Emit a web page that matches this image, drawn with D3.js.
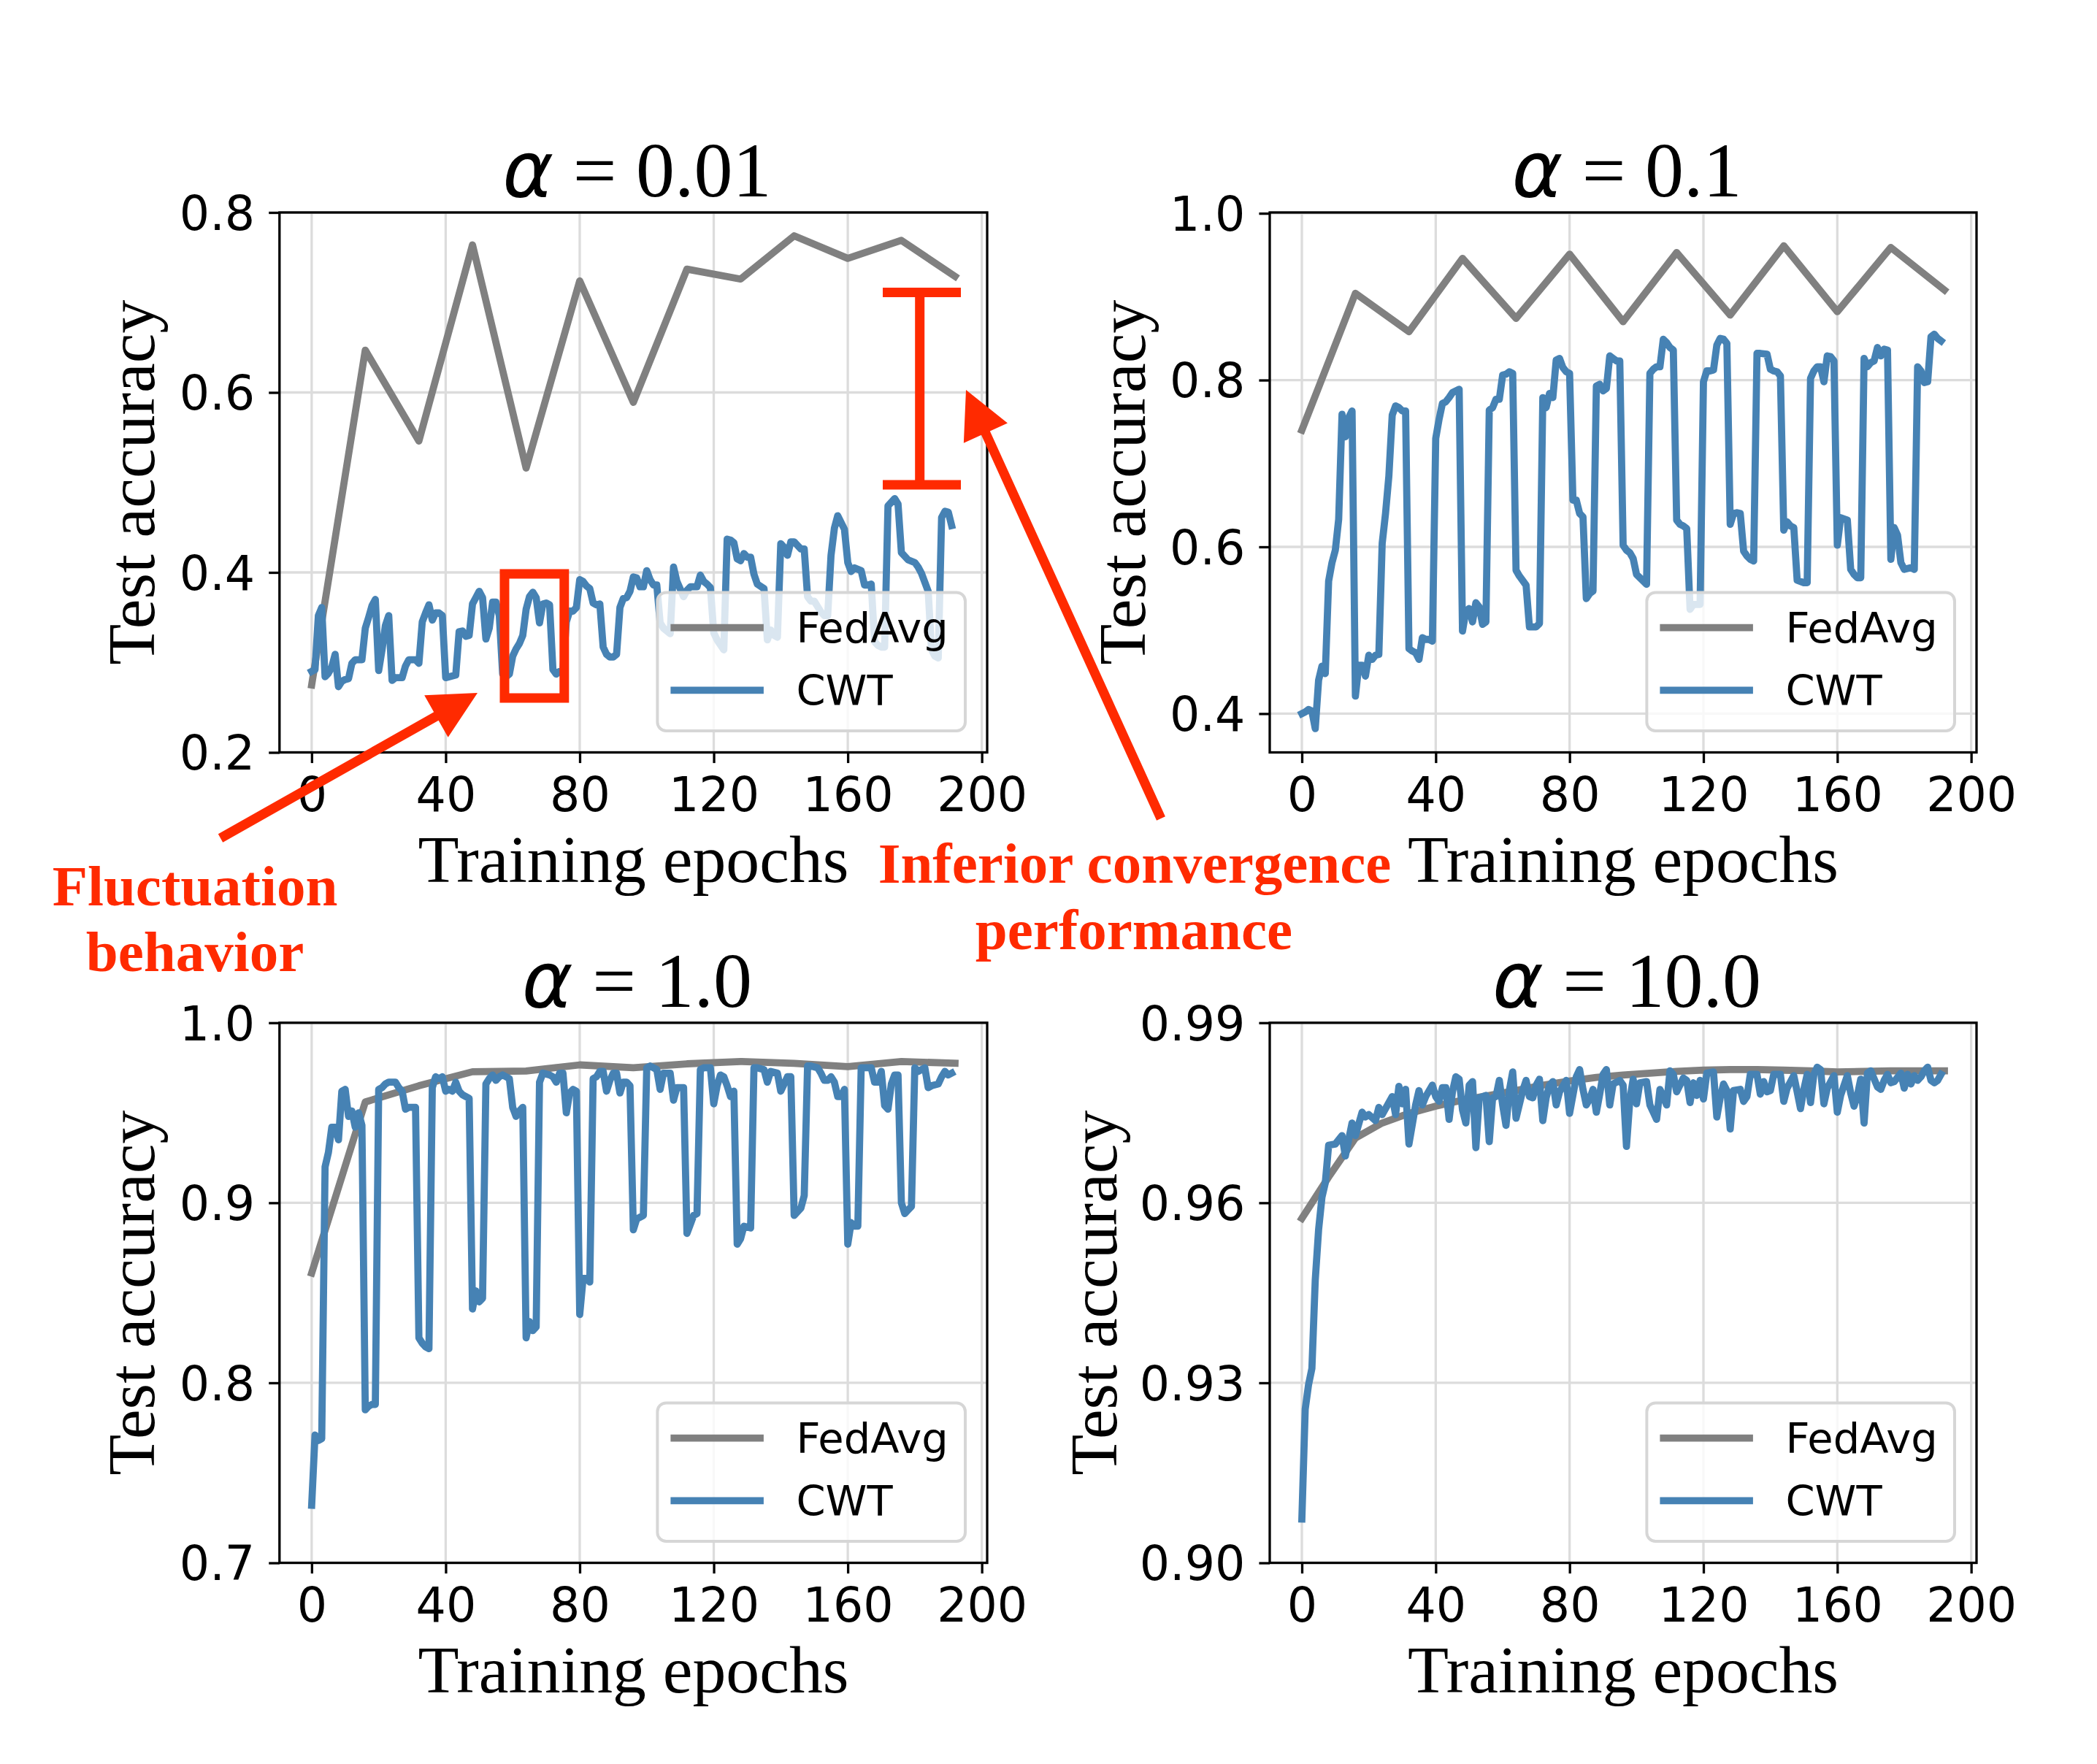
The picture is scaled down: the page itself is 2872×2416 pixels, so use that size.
<!DOCTYPE html>
<html><head><meta charset="utf-8">
<script src="https://cdn.jsdelivr.net/npm/d3@7"></script>
<style>html,body{margin:0;padding:0;background:#fff;}svg{display:block;}</style>
</head><body>
<script>
// ---------------- DATA ----------------
const epochTicks = [0, 40, 80, 120, 160, 200];
const alphaLabels = ["0.01", "0.1", "1.0", "10.0"];
const seriesNames = ["FedAvg", "CWT"];

const fedEpochs16 = [0,16,32,48,64,80,96,112,128,144,160,176,192];
const fedEpochs8 = [0,8,16,24,32,40,48,56,64,72,80,88,96,104,112,120,128,136,144,152,160,168,176,184,192];

const fedAvgA = [0.275,0.647,0.546,0.764,0.516,0.724,0.589,0.737,0.726,0.774,0.749,0.769,0.729];
const fedAvgB = [0.740,0.904,0.858,0.946,0.874,0.951,0.870,0.953,0.878,0.961,0.882,0.959,0.908];
const fedAvgC = [0.861,0.956,0.965,0.9728,0.9732,0.9766,0.975,0.9772,0.9785,0.9775,0.9756,0.9785,0.9775];
const fedAvgD = [0.9574,0.9643,0.9708,0.9733,0.9749,0.9761,0.9771,0.9779,0.9787,0.9796,0.9803,0.9809,0.9813,0.9816,0.9819,0.9821,0.9822,0.9822,0.9821,0.982,0.9818,0.9819,0.982,0.982,0.982];

// CWT: [epoch, test accuracy]
const cwtA = [[0,.290],[1,.292],[2,.352],[3,.361],[4,.284],[5,.288],[6,.295],[7,.309],[8,.273],[9,.279],[10,.281],[11,.282],[12,.299],[13,.303],[15,.303],[16,.338],[17,.350],[18,.363],[19,.370],[20,.291],[21,.314],[22,.341],[23,.352],[24,.280],[25,.283],[27,.283],[28,.296],[29,.303],[31,.303],[32,.299],[33,.345],[34,.355],[35,.364],[36,.347],[37,.355],[38,.355],[39,.352],[40,.283],[41,.284],[43,.286],[44,.334],[45,.335],[46,.329],[47,.330],[48,.365],[49,.372],[50,.379],[51,.372],[52,.326],[53,.338],[54,.367],[55,.367],[56,.352],[57,.287],[58,.284],[59,.287],[60,.307],[61,.315],[62,.321],[63,.330],[64,.359],[65,.373],[66,.378],[67,.372],[68,.344],[69,.365],[70,.366],[71,.364],[72,.292],[73,.287],[74,.290],[75,.292],[76,.345],[77,.357],[78,.357],[79,.361],[80,.392],[81,.390],[82,.385],[83,.382],[84,.366],[85,.364],[86,.365],[87,.317],[88,.309],[89,.306],[90,.306],[91,.309],[92,.361],[93,.371],[94,.372],[95,.379],[96,.395],[97,.394],[98,.384],[99,.384],[100,.402],[101,.392],[102,.386],[103,.386],[104,.344],[105,.338],[107,.332],[108,.406],[109,.390],[111,.373],[112,.380],[113,.384],[115,.384],[116,.397],[117,.390],[118,.387],[119,.383],[120,.333],[121,.325],[123,.314],[124,.437],[125,.436],[126,.433],[127,.415],[128,.413],[129,.421],[130,.417],[131,.417],[132,.398],[133,.387],[135,.382],[136,.325],[137,.336],[138,.330],[139,.328],[140,.432],[141,.428],[142,.419],[143,.434],[144,.434],[145,.430],[146,.426],[147,.426],[148,.373],[149,.368],[150,.368],[152,.356],[153,.352],[154,.352],[155,.419],[156,.449],[157,.463],[159,.448],[160,.411],[161,.401],[162,.405],[164,.402],[165,.386],[166,.386],[167,.387],[168,.323],[169,.319],[170,.317],[171,.317],[172,.474],[174,.482],[175,.476],[176,.422],[178,.414],[180,.411],[181,.406],[182,.399],[184,.379],[185,.314],[186,.307],[187,.305],[188,.461],[189,.468],[190,.467],[191,.452]];

const cwtB = [[0,.400],[1,.402],[2,.405],[3,.403],[4,.382],[5,.440],[6,.457],[7,.448],[8,.559],[9,.581],[10,.596],[11,.633],[12,.759],[13,.732],[14,.755],[15,.763],[16,.421],[17,.458],[18,.458],[19,.445],[20,.470],[21,.465],[22,.470],[23,.471],[24,.604],[25,.640],[26,.685],[27,.758],[28,.769],[29,.767],[30,.763],[31,.763],[32,.478],[33,.475],[34,.473],[35,.465],[36,.491],[37,.489],[38,.489],[39,.487],[40,.730],[41,.753],[42,.772],[43,.774],[44,.779],[45,.785],[47,.789],[48,.499],[49,.523],[50,.526],[51,.510],[52,.533],[53,.528],[54,.507],[55,.510],[56,.764],[57,.767],[58,.777],[59,.777],[60,.806],[61,.807],[62,.810],[63,.808],[64,.572],[65,.565],[67,.554],[68,.504],[70,.504],[71,.508],[72,.779],[73,.767],[74,.784],[75,.779],[76,.824],[77,.826],[78,.815],[79,.810],[80,.808],[81,.656],[82,.656],[83,.640],[84,.636],[85,.538],[86,.544],[87,.547],[88,.793],[89,.795],[90,.787],[91,.790],[92,.829],[93,.826],[94,.823],[95,.823],[96,.602],[97,.596],[98,.593],[99,.586],[100,.567],[101,.563],[102,.559],[103,.555],[104,.808],[105,.813],[106,.816],[107,.816],[108,.849],[109,.845],[110,.839],[111,.836],[112,.632],[113,.627],[114,.625],[115,.622],[116,.525],[117,.531],[119,.531],[120,.798],[121,.811],[122,.811],[123,.812],[124,.842],[125,.850],[126,.849],[127,.844],[128,.627],[129,.640],[130,.641],[131,.640],[132,.595],[133,.589],[134,.585],[135,.583],[136,.832],[137,.832],[139,.831],[140,.813],[141,.811],[142,.810],[143,.805],[144,.620],[145,.630],[146,.625],[147,.623],[148,.560],[150,.557],[151,.557],[152,.802],[153,.811],[154,.816],[155,.816],[156,.798],[157,.829],[158,.828],[159,.823],[160,.602],[161,.635],[163,.632],[164,.573],[165,.567],[166,.563],[167,.563],[168,.826],[169,.816],[170,.821],[171,.823],[172,.839],[173,.829],[174,.837],[175,.836],[176,.585],[177,.623],[178,.614],[179,.581],[180,.573],[182,.575],[183,.573],[184,.816],[185,.811],[186,.797],[187,.798],[188,.852],[189,.855],[190,.850],[191,.847]];

const cwtC = [[0,.732],[1,.771],[2,.768],[3,.769],[4,.920],[5,.928],[6,.942],[7,.942],[8,.935],[9,.962],[10,.963],[11,.948],[12,.951],[13,.942],[14,.950],[15,.943],[16,.785],[17,.787],[18,.788],[19,.788],[20,.963],[21,.964],[22,.966],[23,.967],[25,.967],[26,.964],[27,.962],[28,.952],[29,.953],[31,.953],[32,.825],[33,.822],[34,.820],[35,.819],[36,.964],[37,.970],[38,.969],[39,.970],[40,.962],[41,.963],[42,.962],[43,.967],[44,.962],[45,.960],[46,.959],[47,.958],[48,.841],[49,.851],[50,.845],[51,.847],[52,.966],[53,.969],[54,.971],[55,.968],[56,.970],[57,.971],[59,.969],[60,.953],[61,.948],[62,.951],[63,.953],[64,.825],[65,.834],[66,.829],[67,.831],[68,.967],[69,.972],[71,.971],[72,.970],[73,.967],[74,.972],[75,.972],[76,.950],[77,.961],[78,.963],[79,.962],[80,.838],[81,.858],[82,.858],[83,.856],[84,.969],[85,.970],[86,.973],[87,.973],[88,.962],[89,.968],[90,.972],[91,.972],[92,.961],[93,.967],[94,.967],[95,.965],[96,.885],[97,.891],[98,.892],[99,.893],[100,.975],[101,.976],[103,.974],[104,.963],[105,.972],[107,.972],[108,.957],[109,.964],[111,.964],[112,.883],[113,.888],[114,.893],[115,.894],[116,.974],[117,.975],[119,.975],[120,.955],[121,.965],[122,.971],[123,.970],[124,.965],[125,.959],[126,.962],[127,.877],[128,.880],[129,.887],[131,.886],[132,.975],[133,.975],[135,.974],[136,.967],[137,.973],[139,.972],[140,.962],[141,.966],[142,.970],[143,.970],[144,.893],[145,.895],[146,.897],[147,.904],[148,.976],[149,.976],[151,.975],[152,.972],[153,.968],[154,.968],[155,.970],[156,.967],[157,.959],[158,.959],[159,.963],[160,.877],[161,.889],[162,.887],[163,.887],[164,.975],[165,.975],[167,.975],[168,.967],[169,.967],[170,.973],[171,.954],[172,.952],[173,.966],[174,.971],[175,.971],[176,.900],[177,.894],[178,.896],[179,.898],[180,.975],[181,.973],[183,.975],[184,.964],[185,.965],[187,.966],[188,.970],[189,.973],[190,.971],[191,.972]];

const cwtD = [[0,.9073],[1,.9256],[2,.9297],[3,.9324],[4,.9471],[5,.9555],[6,.9609],[7,.9633],[8,.9696],[10,.9698],[12,.9712],[13,.9678],[15,.9733],[16,.9712],[18,.9751],[19,.9743],[20,.9747],[22,.9737],[23,.9759],[24,.9747],[25,.9757],[27,.9777],[28,.9747],[29,.9794],[30,.9765],[31,.9789],[32,.9698],[34,.9763],[35,.9787],[36,.9763],[37,.9777],[39,.9796],[40,.9777],[41,.9769],[42,.9792],[43,.9792],[44,.9739],[45,.9785],[46,.9810],[47,.9806],[48,.9755],[49,.9733],[50,.9796],[51,.9802],[52,.9692],[53,.9775],[55,.9779],[56,.9702],[57,.9775],[58,.9777],[59,.9804],[60,.9763],[61,.9729],[62,.9787],[63,.9818],[64,.9741],[66,.9787],[67,.9804],[68,.9777],[69,.9775],[70,.9796],[71,.9806],[72,.9737],[73,.9775],[74,.9796],[75,.9802],[76,.9763],[77,.9785],[79,.9804],[80,.9749],[82,.9810],[83,.9822],[84,.9789],[85,.9763],[86,.9773],[87,.9789],[88,.9751],[89,.9781],[90,.9814],[91,.9822],[92,.9763],[93,.9798],[95,.9804],[96,.9796],[97,.9694],[98,.9771],[99,.9806],[100,.9765],[101,.9800],[103,.9802],[104,.9763],[105,.9751],[106,.9739],[107,.9789],[108,.9777],[109,.9763],[110,.9820],[111,.9814],[112,.9785],[114,.9808],[115,.9804],[116,.9767],[117,.9800],[118,.9779],[119,.9804],[120,.9773],[121,.9816],[123,.9818],[124,.9743],[125,.9775],[126,.9798],[127,.9787],[128,.9723],[129,.9787],[131,.9789],[132,.9769],[133,.9777],[134,.9814],[136,.9814],[137,.9781],[138,.9802],[139,.9785],[140,.9787],[141,.9814],[143,.9814],[144,.9769],[145,.9791],[147,.9812],[148,.9785],[149,.9757],[150,.9789],[151,.9814],[152,.9767],[153,.9814],[154,.9826],[155,.9822],[156,.9765],[157,.9791],[159,.9812],[160,.9751],[161,.9779],[163,.9812],[164,.9783],[165,.9761],[166,.9779],[167,.9806],[168,.9733],[169,.9816],[170,.9820],[172,.9793],[173,.9789],[174,.9804],[175,.9814],[176,.9800],[177,.9802],[179,.9816],[180,.9791],[181,.9814],[182,.9798],[183,.9812],[184,.9804],[185,.9810],[186,.9820],[187,.9826],[188,.9804],[189,.9800],[190,.9804],[191,.9814]];

const yTicksA = [0.2, 0.4, 0.6, 0.8];
const yTicksB = [0.4, 0.6, 0.8, 1.0];
const yTicksC = [0.7, 0.8, 0.9, 1.0];
const yTicksD = [0.90, 0.93, 0.96, 0.99];
const yTickLabelsA = ["0.2","0.4","0.6","0.8"];
const yTickLabelsB = ["0.4","0.6","0.8","1.0"];
const yTickLabelsC = ["0.7","0.8","0.9","1.0"];
const yTickLabelsD = ["0.90","0.93","0.96","0.99"];

// ---------------- STYLE / LAYOUT ----------------
const W = 2872, H = 2416;
const GRAY = "#808080", BLUE = "#4682b4", RED = "#ff2a00", GRID = "#dcdcdc";
const SERIF = "'Liberation Serif','Times New Roman',serif";
const SANS = "'DejaVu Sans',sans-serif";
const LW = 9.8, SPINE = 3.3, TICKLEN = 14.6, TICKFS = 65;
const xDomain = [-9.6, 201.6];

const panels = [
  {left:382.8, top:291,    w:969.2, h:739.5, yDom:[0.2,0.8],     yT:yTicksA, yL:yTickLabelsA, fedE:fedEpochs16, fedV:fedAvgA, cwt:cwtA, title:alphaLabels[0], ylabOff:-171.5},
  {left:1739,  top:291,    w:968,   h:739.5, yDom:[0.3535,1.001], yT:yTicksB, yL:yTickLabelsB, fedE:fedEpochs16, fedV:fedAvgB, cwt:cwtB, title:alphaLabels[1], ylabOff:-171.5},
  {left:382.8, top:1400.8, w:969.2, h:739.7, yDom:[0.7,1.0],     yT:yTicksC, yL:yTickLabelsC, fedE:fedEpochs16, fedV:fedAvgC, cwt:cwtC, title:alphaLabels[2], ylabOff:-171.5},
  {left:1739,  top:1400.8, w:968,   h:739.7, yDom:[0.90,0.99],   yT:yTicksD, yL:yTickLabelsD, fedE:fedEpochs8,  fedV:fedAvgD, cwt:cwtD, title:alphaLabels[3], ylabOff:-210}
];

const svg = d3.select("body").append("svg").attr("width", W).attr("height", H)
  .style("background", "#fff");
svg.append("rect").attr("width", W).attr("height", H).attr("fill", "#fff");
const defs = svg.append("defs");

panels.forEach((p, i) => {
  const g = svg.append("g");
  const x = d3.scaleLinear().domain(xDomain).range([p.left, p.left + p.w]);
  const y = d3.scaleLinear().domain(p.yDom).range([p.top + p.h, p.top]);
  const clipId = "clip" + i;
  defs.append("clipPath").attr("id", clipId).append("rect")
    .attr("x", p.left).attr("y", p.top).attr("width", p.w).attr("height", p.h);

  // grid
  g.append("g").selectAll("line").data(epochTicks).join("line")
    .attr("x1", d => x(d)).attr("x2", d => x(d)).attr("y1", p.top).attr("y2", p.top + p.h)
    .attr("stroke", GRID).attr("stroke-width", 3.3);
  g.append("g").selectAll("line").data(p.yT).join("line")
    .attr("y1", d => y(d)).attr("y2", d => y(d)).attr("x1", p.left).attr("x2", p.left + p.w)
    .attr("stroke", GRID).attr("stroke-width", 3.3);

  // lines
  const line = d3.line().x(d => x(d[0])).y(d => y(d[1]));
  const lg = g.append("g").attr("clip-path", `url(#${clipId})`);
  lg.append("path").datum(d3.zip(p.fedE, p.fedV)).attr("d", line)
    .attr("fill", "none").attr("stroke", GRAY).attr("stroke-width", LW)
    .attr("stroke-linejoin", "round").attr("stroke-linecap", "square");
  lg.append("path").datum(p.cwt).attr("d", line)
    .attr("fill", "none").attr("stroke", BLUE).attr("stroke-width", LW)
    .attr("stroke-linejoin", "round").attr("stroke-linecap", "square");

  // legend
  const lw = 421.6, lh = 189.6;
  const lx = p.left + p.w - 30 - lw, ly = p.top + p.h - 29.5 - lh;
  const leg = g.append("g");
  leg.append("rect").attr("x", lx).attr("y", ly).attr("width", lw).attr("height", lh)
    .attr("rx", 12).attr("fill", "#fff").attr("fill-opacity", 0.8)
    .attr("stroke", "#d6d6d6").attr("stroke-width", 4);
  [[GRAY, 48.2, 68.8], [BLUE, 134, 154.7]].forEach((c, k) => {
    leg.append("line").attr("x1", lx + 18).attr("x2", lx + 145.5)
      .attr("y1", ly + c[1]).attr("y2", ly + c[1])
      .attr("stroke", c[0]).attr("stroke-width", LW);
    leg.append("text").attr("x", lx + 190).attr("y", ly + c[2])
      .attr("font-family", SANS).attr("font-size", 57.5).attr("fill", "#000")
      .text(seriesNames[k]);
  });

  // spines
  g.append("rect").attr("x", p.left).attr("y", p.top).attr("width", p.w).attr("height", p.h)
    .attr("fill", "none").attr("stroke", "#000").attr("stroke-width", SPINE);

  // axes
  const ax = g.append("g").attr("transform", `translate(0,${p.top + p.h})`)
    .call(d3.axisBottom(x).tickValues(epochTicks).tickFormat(d3.format("d"))
      .tickSizeInner(TICKLEN).tickSizeOuter(0).tickPadding(14.6));
  ax.select(".domain").remove();
  ax.selectAll(".tick line").attr("stroke", "#000").attr("stroke-width", SPINE);
  ax.selectAll(".tick text").attr("font-family", SANS).attr("font-size", TICKFS)
    .attr("fill", "#000").attr("y", 80).attr("dy", 0);

  const ay = g.append("g").attr("transform", `translate(${p.left},0)`)
    .call(d3.axisLeft(y).tickValues(p.yT).tickFormat((d, k) => p.yL[k])
      .tickSizeInner(TICKLEN).tickSizeOuter(0).tickPadding(19));
  ay.select(".domain").remove();
  ay.selectAll(".tick line").attr("stroke", "#000").attr("stroke-width", SPINE);
  ay.selectAll(".tick text").attr("font-family", SANS).attr("font-size", TICKFS)
    .attr("fill", "#000").attr("dy", "0.36em");

  // axis labels
  g.append("text").attr("x", p.left + p.w / 2).attr("y", p.top + p.h + 177)
    .attr("text-anchor", "middle").attr("font-family", SERIF).attr("font-size", 91.7)
    .attr("fill", "#000").text("Training epochs");
  const yl = p.left + p.ylabOff, yc = p.top + p.h / 2;
  g.append("text").attr("transform", `translate(${yl},${yc}) rotate(-90)`)
    .attr("text-anchor", "middle").attr("font-family", SERIF).attr("font-size", 91.7)
    .attr("fill", "#000").text("Test accuracy");

  // title
  const t = g.append("text").attr("x", p.left + p.w / 2 + 5).attr("y", p.top - 22)
    .attr("text-anchor", "middle").attr("font-size", 106).attr("fill", "#000");
  t.append("tspan").attr("font-family", SANS).attr("font-style", "italic").text("\u03b1");
  t.append("tspan").attr("font-family", SERIF).text(" = " + p.title);
});

// ---------------- ANNOTATIONS ----------------
const ann = svg.append("g");
function arrowPoly(x0, y0, x1, y1, sw, hw, hl) {
  const dx = x1 - x0, dy = y1 - y0, L = Math.hypot(dx, dy), ux = dx / L, uy = dy / L, px = -uy, py = ux;
  const bx = x1 - ux * hl, by = y1 - uy * hl;
  return [[x0 + px * sw / 2, y0 + py * sw / 2], [bx + px * sw / 2, by + py * sw / 2], [bx + px * hw / 2, by + py * hw / 2],
          [x1, y1], [bx - px * hw / 2, by - py * hw / 2], [bx - px * sw / 2, by - py * sw / 2], [x0 - px * sw / 2, y0 - py * sw / 2]];
}
// fluctuation box
ann.append("rect").attr("x", 691).attr("y", 786).attr("width", 81.8).attr("height", 170)
  .attr("fill", "none").attr("stroke", RED).attr("stroke-width", 13);
// gap bar
ann.append("path").attr("d", "M1209,400.4H1316M1209,663.9H1316M1259.7,400.4V663.9")
  .attr("fill", "none").attr("stroke", RED).attr("stroke-width", 13);
// arrows
ann.append("polygon").attr("points", arrowPoly(302, 1148, 654, 949, 13, 66, 65).join(" ")).attr("fill", RED);
ann.append("polygon").attr("points", arrowPoly(1590, 1121, 1323, 534, 13, 66, 65).join(" ")).attr("fill", RED);
// texts
const annText = (x, y, s) => ann.append("text").attr("x", x).attr("y", y).attr("text-anchor", "middle")
  .attr("font-family", SERIF).attr("font-weight", "bold").attr("font-size", 79).attr("fill", RED).text(s);
annText(267, 1240, "Fluctuation");
annText(267, 1330, "behavior");
annText(1554, 1209, "Inferior convergence");
annText(1553, 1300, "performance");
</script>
</body></html>
